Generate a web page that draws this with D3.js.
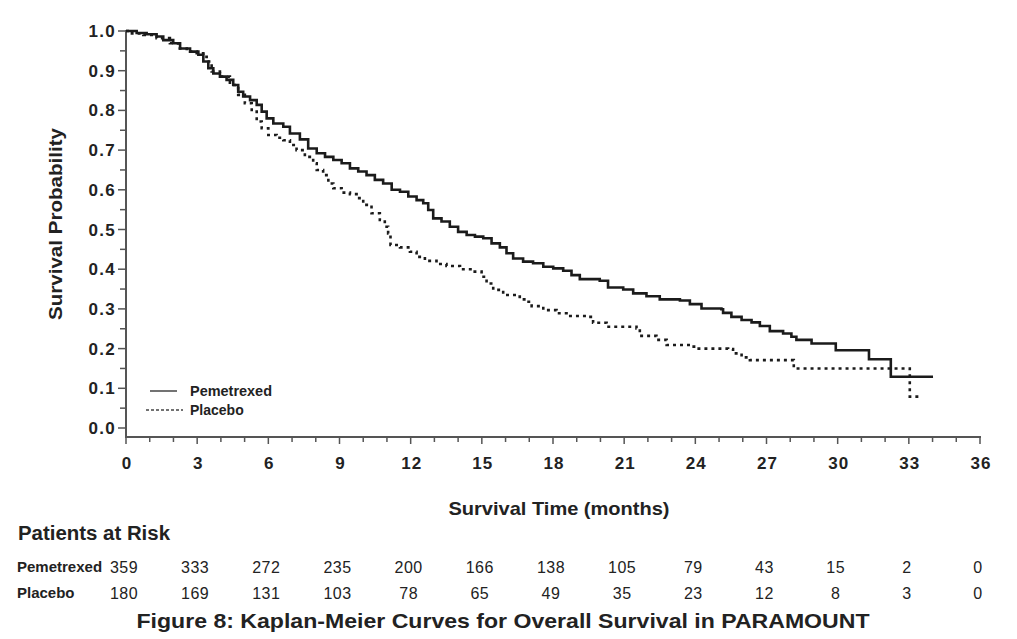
<!DOCTYPE html>
<html>
<head>
<meta charset="utf-8">
<script src="https://cdn.jsdelivr.net/npm/d3@7"></script>
<style>
body{margin:0;background:#fff}
text{font-family:"Liberation Sans",Arial,sans-serif;fill:#222}
</style>
</head>
<body>
<div id="chart"></div>
<script>
// step points: months and survival after that time
var pemMonths = [0,0.45,0.87,1.29,1.57,1.99,2.28,2.7,3.05,3.26,3.47,3.68,3.96,4.24,4.52,4.73,4.94,5.23,5.51,5.72,5.93,6.21,6.63,6.91,7.33,7.68,8.04,8.39,8.74,9.09,9.44,9.79,10.14,10.49,10.84,11.2,11.55,11.9,12.25,12.53,12.74,12.95,13.3,13.65,14.0,14.36,14.71,15.06,15.41,15.76,16.04,16.32,16.74,17.16,17.59,18.01,18.43,18.78,19.13,19.97,20.32,20.96,21.38,21.94,22.5,23.35,23.77,24.26,25.1,25.17,25.52,25.95,26.37,26.72,27.14,27.7,28.05,28.26,28.9,29.92,31.32,32.24,34.02]
var pemSurv = [1.0,0.995,0.992,0.986,0.977,0.969,0.956,0.948,0.94,0.923,0.906,0.893,0.885,0.877,0.864,0.847,0.835,0.826,0.814,0.797,0.78,0.767,0.759,0.742,0.727,0.704,0.692,0.683,0.675,0.667,0.654,0.646,0.637,0.625,0.616,0.6,0.595,0.583,0.574,0.566,0.549,0.528,0.52,0.507,0.494,0.486,0.482,0.478,0.465,0.455,0.44,0.427,0.419,0.415,0.406,0.402,0.396,0.385,0.375,0.371,0.354,0.349,0.339,0.332,0.324,0.321,0.312,0.301,0.299,0.29,0.28,0.272,0.266,0.257,0.244,0.238,0.23,0.222,0.213,0.196,0.173,0.129,0.129]
var plaMonths = [0,0.17,0.73,1.29,1.85,2.2,2.56,2.98,3.26,3.4,3.61,3.96,4.38,4.73,5.01,5.3,5.51,5.72,6.0,6.35,6.63,6.91,7.19,7.54,7.89,8.04,8.31,8.53,8.74,9.09,9.44,9.72,10.0,10.35,10.7,10.91,11.05,11.15,11.55,11.97,12.25,12.6,13.09,13.51,14.08,14.64,14.99,15.2,15.48,15.9,16.46,16.6,16.89,17.1,17.59,18.15,18.57,19.48,19.69,20.26,21.52,21.66,22.36,22.79,23.84,24.05,25.38,25.59,25.95,26.3,28.15,33.04,33.46]
var plaSurv = [1.0,0.994,0.99,0.982,0.969,0.956,0.948,0.944,0.935,0.923,0.898,0.885,0.864,0.839,0.818,0.797,0.772,0.755,0.738,0.731,0.725,0.713,0.7,0.683,0.667,0.65,0.637,0.616,0.604,0.593,0.589,0.579,0.562,0.541,0.524,0.507,0.49,0.461,0.455,0.444,0.431,0.421,0.413,0.408,0.4,0.394,0.381,0.364,0.348,0.335,0.331,0.324,0.318,0.307,0.297,0.289,0.282,0.28,0.265,0.255,0.251,0.232,0.222,0.209,0.205,0.2,0.199,0.188,0.178,0.171,0.15,0.079,0.079]

var riskTimes = [0,3,6,9,12,15,18,21,24,27,30,33,36]
var pemRisk = [359,333,272,235,200,166,138,105,79,43,15,2,0]
var plaRisk = [180,169,131,103,78,65,49,35,23,12,8,3,0]

var yTicks = [0,0.1,0.2,0.3,0.4,0.5,0.6,0.7,0.8,0.9,1.0]

var w = 1017, h = 639
var lineColor = "#1b1b1b"
var axisColor = "#555"

var svg = d3.select("#chart").append("svg").attr("width",w).attr("height",h)

var xScale = d3.scaleLinear().domain([0,36]).range([126,980])
var yScale = d3.scaleLinear().domain([0,1]).range([428,31])
var axisY = 437

// axes lines
svg.append("line").attr("x1",126).attr("x2",126).attr("y1",30).attr("y2",axisY)
    .attr("stroke",axisColor).attr("stroke-width",2)
svg.append("line").attr("x1",125).attr("x2",xScale(36)+1).attr("y1",axisY).attr("y2",axisY)
    .attr("stroke",axisColor).attr("stroke-width",2)

// y ticks, major and minor
var yMinor = d3.range(0,21).map(function(i){return i*0.05})
svg.selectAll(".ytick")
    .data(yMinor)
    .enter()
    .append("line")
    .attr("class","ytick")
    .attr("x1",function(d,i){return i%2==0 ? 118 : 120})
    .attr("x2",126)
    .attr("y1",function(d){return yScale(d)})
    .attr("y2",function(d){return yScale(d)})
    .attr("stroke",axisColor).attr("stroke-width",1.5)
svg.selectAll(".ylabel")
    .data(yTicks)
    .enter()
    .append("text")
    .attr("class","ylabel")
    .attr("x",116)
    .attr("y",function(d){return yScale(d)+6})
    .attr("text-anchor","end")
    .style("font-size","17px").style("font-weight","bold").style("letter-spacing","1.3px")
    .text(function(d){return d.toFixed(1)})

// x ticks every month, labels every 3
var xMinor = d3.range(0,37)
svg.selectAll(".xtick")
    .data(xMinor)
    .enter()
    .append("line")
    .attr("class","xtick")
    .attr("x1",function(d){return xScale(d)})
    .attr("x2",function(d){return xScale(d)})
    .attr("y1",axisY)
    .attr("y2",function(d){return d%3==0 ? axisY+7 : axisY+5})
    .attr("stroke",axisColor).attr("stroke-width",1.5)
svg.selectAll(".xlabel")
    .data(riskTimes)
    .enter()
    .append("text")
    .attr("class","xlabel")
    .attr("x",function(d){return xScale(d)+1})
    .attr("y",469)
    .attr("text-anchor","middle")
    .style("font-size","17px").style("font-weight","bold").style("letter-spacing","1px")
    .text(function(d){return d})

// axis titles
svg.append("text")
    .attr("transform","translate(62,224) rotate(-90)")
    .attr("text-anchor","middle")
    .attr("textLength",192).attr("lengthAdjust","spacingAndGlyphs")
    .style("font-size","19px").style("font-weight","bold")
    .text("Survival Probability")
svg.append("text")
    .attr("x",559).attr("y",515)
    .attr("text-anchor","middle")
    .attr("textLength",221).attr("lengthAdjust","spacingAndGlyphs")
    .style("font-size","19px").style("font-weight","bold")
    .text("Survival Time (months)")

// curves
var line = d3.line()
    .x(function(d){return xScale(d[0])})
    .y(function(d){return yScale(d[1])})
    .curve(d3.curveStepAfter)

var pemData = pemMonths.map(function(m,i){return [m,pemSurv[i]]})
var plaData = plaMonths.map(function(m,i){return [m,plaSurv[i]]})

svg.append("path").datum(plaData)
    .attr("d",line)
    .attr("fill","none")
    .attr("stroke",lineColor)
    .attr("stroke-width",2.6)
    .attr("stroke-dasharray","3,4")
svg.append("path").datum(pemData)
    .attr("d",line)
    .attr("fill","none")
    .attr("stroke",lineColor)
    .attr("stroke-width",2.6)

// legend
svg.append("line").attr("x1",150).attr("x2",177).attr("y1",391).attr("y2",391)
    .attr("stroke","#444").attr("stroke-width",1.5)
svg.append("line").attr("x1",146).attr("x2",183).attr("y1",410).attr("y2",410)
    .attr("stroke","#444").attr("stroke-width",1.5).attr("stroke-dasharray","3,2")
svg.append("text").attr("x",190).attr("y",396)
    .attr("textLength",82).attr("lengthAdjust","spacingAndGlyphs")
    .style("font-size","14px").style("font-weight","bold").text("Pemetrexed")
svg.append("text").attr("x",190).attr("y",415)
    .style("font-size","14px").style("font-weight","bold").text("Placebo")

// patients at risk table
svg.append("text").attr("x",18).attr("y",540)
    .attr("textLength",152).attr("lengthAdjust","spacingAndGlyphs")
    .style("font-size","20px").style("font-weight","bold").text("Patients at Risk")
var rows = [{label:"Pemetrexed",values:pemRisk,y:572},{label:"Placebo",values:plaRisk,y:598}]
for(var r in rows){
    var row = rows[r]
    svg.append("text").attr("x",17).attr("y",row.y)
        .style("font-size","15px").style("font-weight","bold").text(row.label)
    svg.selectAll(".risk"+r)
        .data(row.values)
        .enter()
        .append("text")
        .attr("class","risk"+r)
        .attr("x",function(d,i){return xScale(riskTimes[i])-2})
        .attr("y",row.y+1)
        .attr("text-anchor","middle")
        .style("font-size","16px").style("letter-spacing","0.5px")
        .text(function(d){return d})
}

svg.append("text").attr("x",503).attr("y",628)
    .attr("text-anchor","middle")
    .attr("textLength",733).attr("lengthAdjust","spacingAndGlyphs")
    .style("font-size","21px").style("font-weight","bold")
    .text("Figure 8: Kaplan-Meier Curves for Overall Survival in PARAMOUNT")
</script>
</body>
</html>
